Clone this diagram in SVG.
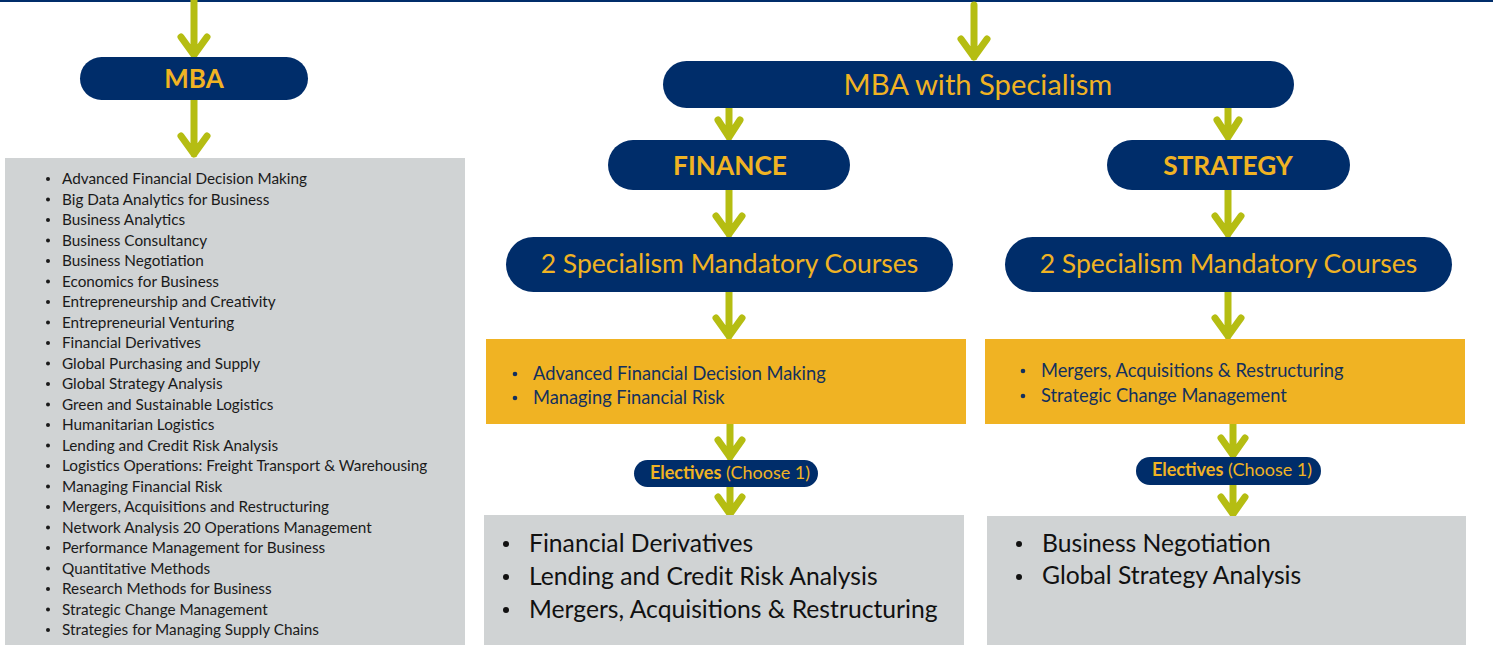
<svg xmlns="http://www.w3.org/2000/svg" width="1493" height="645" viewBox="0 0 1493 645">
<style>
.pill{fill:#002d6a}
.gold{fill:#f0b323}
.grey{fill:#d0d3d4}
.ht{font-family:Lato,"Open Sans",sans-serif;fill:#f0b323;text-anchor:middle}
.b{font-weight:bold}
.li{font-family:Lato,"Open Sans",sans-serif;fill:#1a1a1a;font-size:15.3px}
.gt{font-family:Lato,"Open Sans",sans-serif;fill:#13305e;font-size:18.3px}
.bt{font-family:Lato,"Open Sans",sans-serif;fill:#111;font-size:24.7px}
.arr{fill:none;stroke:#b5bd12;stroke-width:7;stroke-linecap:round;stroke-linejoin:round}
</style>
<rect x="0" y="0" width="1493" height="645" fill="#fff"/>
<rect x="0" y="0" width="1493" height="2" fill="#002d6a"/>

<g id="connectors">
<path class="arr" d="M194 0V55M181 37L194 55L207 37"/>
<path class="arr" d="M194 100V154M181 136L194 154L207 136"/>
<path class="arr" d="M974 5V57M961 39L974 57L987 39"/>
<path class="arr" d="M729 108V137M718 120L729 137L740 120"/>
<path class="arr" d="M1228 108V137M1217 120L1228 137L1239 120"/>
<path class="arr" d="M729 190V234M716 216L729 234L742 216"/>
<path class="arr" d="M1228 190V234M1215 216L1228 234L1241 216"/>
<path class="arr" d="M729 292V336M716 318L729 336L742 318"/>
<path class="arr" d="M1228 292V336M1215 318L1228 336L1241 318"/>
<path class="arr" d="M730 424V457M718 440L730 457L742 440"/>
<path class="arr" d="M1233 424V455M1221 438L1233 455L1245 438"/>
<path class="arr" d="M730 487V514M718 497L730 514L742 497"/>
<path class="arr" d="M1233 485V514M1221 497L1233 514L1245 497"/>
</g>

<g id="mba">
<rect class="pill" x="80" y="57" width="228" height="43" rx="21.5"/>
<text class="ht b" x="194" y="88" font-size="26">MBA</text>
</g>

<g id="mba-list">
<rect class="grey" x="5" y="158" width="460" height="487"/>
<g class="li">
<text x="62" y="184">Advanced Financial Decision Making</text>
<text x="62" y="204.5">Big Data Analytics for Business</text>
<text x="62" y="225">Business Analytics</text>
<text x="62" y="245.5">Business Consultancy</text>
<text x="62" y="266">Business Negotiation</text>
<text x="62" y="286.5">Economics for Business</text>
<text x="62" y="307">Entrepreneurship and Creativity</text>
<text x="62" y="327.5">Entrepreneurial Venturing</text>
<text x="62" y="348">Financial Derivatives</text>
<text x="62" y="368.5">Global Purchasing and Supply</text>
<text x="62" y="389">Global Strategy Analysis</text>
<text x="62" y="409.5">Green and Sustainable Logistics</text>
<text x="62" y="430">Humanitarian Logistics</text>
<text x="62" y="450.5">Lending and Credit Risk Analysis</text>
<text x="62" y="471">Logistics Operations: Freight Transport &amp; Warehousing</text>
<text x="62" y="491.5">Managing Financial Risk</text>
<text x="62" y="512">Mergers, Acquisitions and Restructuring</text>
<text x="62" y="532.5">Network Analysis 20 Operations Management</text>
<text x="62" y="553">Performance Management for Business</text>
<text x="62" y="573.5">Quantitative Methods</text>
<text x="62" y="594">Research Methods for Business</text>
<text x="62" y="614.5">Strategic Change Management</text>
<text x="62" y="635">Strategies for Managing Supply Chains</text>
</g>
<g fill="#1a1a1a">
<circle cx="48" cy="179" r="2"/><circle cx="48" cy="199.5" r="2"/><circle cx="48" cy="220" r="2"/><circle cx="48" cy="240.5" r="2"/><circle cx="48" cy="261" r="2"/><circle cx="48" cy="281.5" r="2"/><circle cx="48" cy="302" r="2"/><circle cx="48" cy="322.5" r="2"/><circle cx="48" cy="343" r="2"/><circle cx="48" cy="363.5" r="2"/><circle cx="48" cy="384" r="2"/><circle cx="48" cy="404.5" r="2"/><circle cx="48" cy="425" r="2"/><circle cx="48" cy="445.5" r="2"/><circle cx="48" cy="466" r="2"/><circle cx="48" cy="486.5" r="2"/><circle cx="48" cy="507" r="2"/><circle cx="48" cy="527.5" r="2"/><circle cx="48" cy="548" r="2"/><circle cx="48" cy="568.5" r="2"/><circle cx="48" cy="589" r="2"/><circle cx="48" cy="609.5" r="2"/><circle cx="48" cy="630" r="2"/>
</g>
</g>

<g id="mba-specialism">
<rect class="pill" x="663" y="61" width="631" height="47" rx="23.5"/>
<text class="ht" x="978" y="95" font-size="29.2">MBA with Specialism</text>
</g>

<g id="finance">
<rect class="pill" x="608" y="140" width="242" height="50" rx="25"/>
<text class="ht b" x="730" y="175" font-size="26.3">FINANCE</text>
</g>

<g id="strategy">
<rect class="pill" x="1107" y="140" width="243" height="50" rx="25"/>
<text class="ht b" x="1228" y="175" font-size="26.3">STRATEGY</text>
</g>

<g id="finance-mandatory">
<rect class="pill" x="506" y="237" width="447" height="55" rx="27.5"/>
<text class="ht" x="729.5" y="273" font-size="26.5">2 Specialism Mandatory Courses</text>
</g>

<g id="strategy-mandatory">
<rect class="pill" x="1005" y="237" width="447" height="55" rx="27.5"/>
<text class="ht" x="1228.5" y="273" font-size="26.5">2 Specialism Mandatory Courses</text>
</g>

<g id="finance-courses">
<rect class="gold" x="486" y="339" width="480" height="85"/>
<circle cx="515" cy="374" r="2.3" fill="#13305e"/>
<circle cx="515" cy="398" r="2.3" fill="#13305e"/>
<text class="gt" x="533" y="380">Advanced Financial Decision Making</text>
<text class="gt" x="533" y="404">Managing Financial Risk</text>
</g>

<g id="strategy-courses">
<rect class="gold" x="985" y="339" width="480" height="85"/>
<circle cx="1023" cy="371" r="2.3" fill="#13305e"/>
<circle cx="1023" cy="396" r="2.3" fill="#13305e"/>
<text class="gt" x="1041" y="377">Mergers, Acquisitions &amp; Restructuring</text>
<text class="gt" x="1041" y="402">Strategic Change Management</text>
</g>

<g id="finance-electives">
<rect class="pill" x="634" y="460" width="184" height="27" rx="13.5"/>
<text class="ht" x="730" y="479" font-size="18"><tspan class="b">Electives</tspan> (Choose 1)</text>
</g>

<g id="strategy-electives">
<rect class="pill" x="1136" y="457" width="185" height="28" rx="14"/>
<text class="ht" x="1232" y="476" font-size="18"><tspan class="b">Electives</tspan> (Choose 1)</text>
</g>

<g id="finance-elective-list">
<rect class="grey" x="484" y="515" width="480" height="130"/>
<circle cx="506" cy="544" r="3" fill="#111"/>
<circle cx="506" cy="577" r="3" fill="#111"/>
<circle cx="506" cy="610" r="3" fill="#111"/>
<text class="bt" x="529" y="552">Financial Derivatives</text>
<text class="bt" x="529" y="585">Lending and Credit Risk Analysis</text>
<text class="bt" x="529" y="618">Mergers, Acquisitions &amp; Restructuring</text>
</g>

<g id="strategy-elective-list">
<rect class="grey" x="987" y="516" width="479" height="129"/>
<circle cx="1019" cy="544" r="3" fill="#111"/>
<circle cx="1019" cy="577" r="3" fill="#111"/>
<text class="bt" x="1042" y="552">Business Negotiation</text>
<text class="bt" x="1042" y="584">Global Strategy Analysis</text>
</g>
</svg>
